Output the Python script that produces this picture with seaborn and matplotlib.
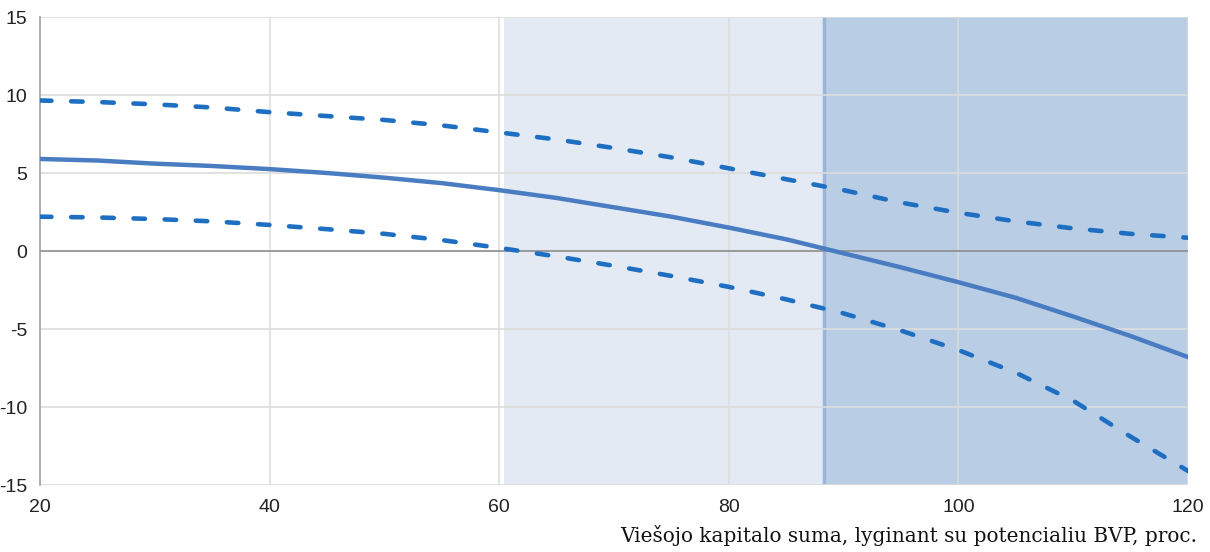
import matplotlib
matplotlib.use("Agg")
import matplotlib.pyplot as plt
import seaborn as sns
import pandas as pd

# Public capital stock vs. potential GDP (%), with estimated effect and bounds
debt_ratio = [20, 25, 30, 35, 40, 45, 50, 55, 60, 65, 70, 75, 80, 85, 90, 95, 100, 105, 110, 115, 120]
central = [5.9, 5.8, 5.6, 5.45, 5.25, 5.0, 4.7, 4.35, 3.9, 3.4, 2.8, 2.2, 1.5, 0.75, -0.15, -1.05, -2.0, -3.0, -4.2, -5.45, -6.8]
upper = [9.65, 9.55, 9.4, 9.2, 8.9, 8.65, 8.4, 8.05, 7.6, 7.15, 6.6, 6.0, 5.3, 4.6, 3.9, 3.1, 2.45, 1.9, 1.45, 1.1, 0.85]
lower = [2.2, 2.15, 2.05, 1.9, 1.67, 1.4, 1.1, 0.7, 0.2, -0.35, -0.95, -1.6, -2.3, -3.1, -4.0, -5.1, -6.35, -7.8, -9.6, -11.9, -14.1]

light_zone = (60.4, 88.3)
dark_zone = (88.3, 120)

x_ticks = [20, 40, 60, 80, 100, 120]
y_ticks = [-15, -10, -5, 0, 5, 10, 15]
x_label = "Viešojo kapitalo suma, lyginant su potencialiu BVP, proc."

df = pd.DataFrame({"x": debt_ratio, "central": central, "upper": upper, "lower": lower})

sns.set_style("white")
plt.rcParams["font.family"] = ["Liberation Sans", "DejaVu Sans"]

fig = plt.figure(figsize=(12.1, 5.52), dpi=100)
ax = fig.add_axes([40 / 1210, 1 - 485 / 552, 1148 / 1210, 468 / 552])

ax.axvspan(*light_zone, color="#E3EAF4", zorder=0, lw=0)
ax.axvspan(*dark_zone, color="#B9CDE5", zorder=0, lw=0)
ax.axvline(dark_zone[0], color="#9AB4DA", lw=2.5, zorder=1)

for t in y_ticks:
    if t != 0:
        ax.axhline(t, color="#DCDCDC", lw=1.2, zorder=1)
for t in x_ticks[1:]:
    ax.axvline(t, color="#DCDCDC", lw=1.2, zorder=0.5, alpha=0.9)
ax.axhline(0, color="#8C8C8C", lw=1.2, zorder=2)

dash_pattern = [2.5, 4.3]
sns.lineplot(data=df, x="x", y="central", ax=ax, color="#4A7CC2", lw=3.2, zorder=4)
for col in ["upper", "lower"]:
    sns.lineplot(data=df, x="x", y=col, ax=ax, color="#1E6FC2", lw=3.3, zorder=4)
    line = ax.lines[-1]
    line.set_dashes(dash_pattern)
    line.set_dash_capstyle("round")

ax.set_xlim(20, 120)
ax.set_ylim(-15, 15)
ax.set_xticks(x_ticks)
ax.set_yticks(y_ticks)
ax.set_xticklabels([str(v) for v in x_ticks])
ax.set_yticklabels([str(v) for v in y_ticks])
ax.tick_params(axis="both", labelsize=14, colors="#222222")
ax.tick_params(axis="y", length=5, color="#A0A0A0", width=1.2, pad=4)
ax.tick_params(axis="x", length=0, pad=10)
ax.set_xlabel("")
ax.set_ylabel("")

for side in ["top", "right", "bottom"]:
    ax.spines[side].set_visible(False)
ax.spines["left"].set_color("#A0A0A0")
ax.spines["left"].set_linewidth(1.2)

fig.text(1197 / 1210, 1 - 536 / 552, x_label, ha="right", va="center",
         fontsize=14.4, family=["DejaVu Serif"], color="#111111")

fig.savefig("out.png", dpi=100)
